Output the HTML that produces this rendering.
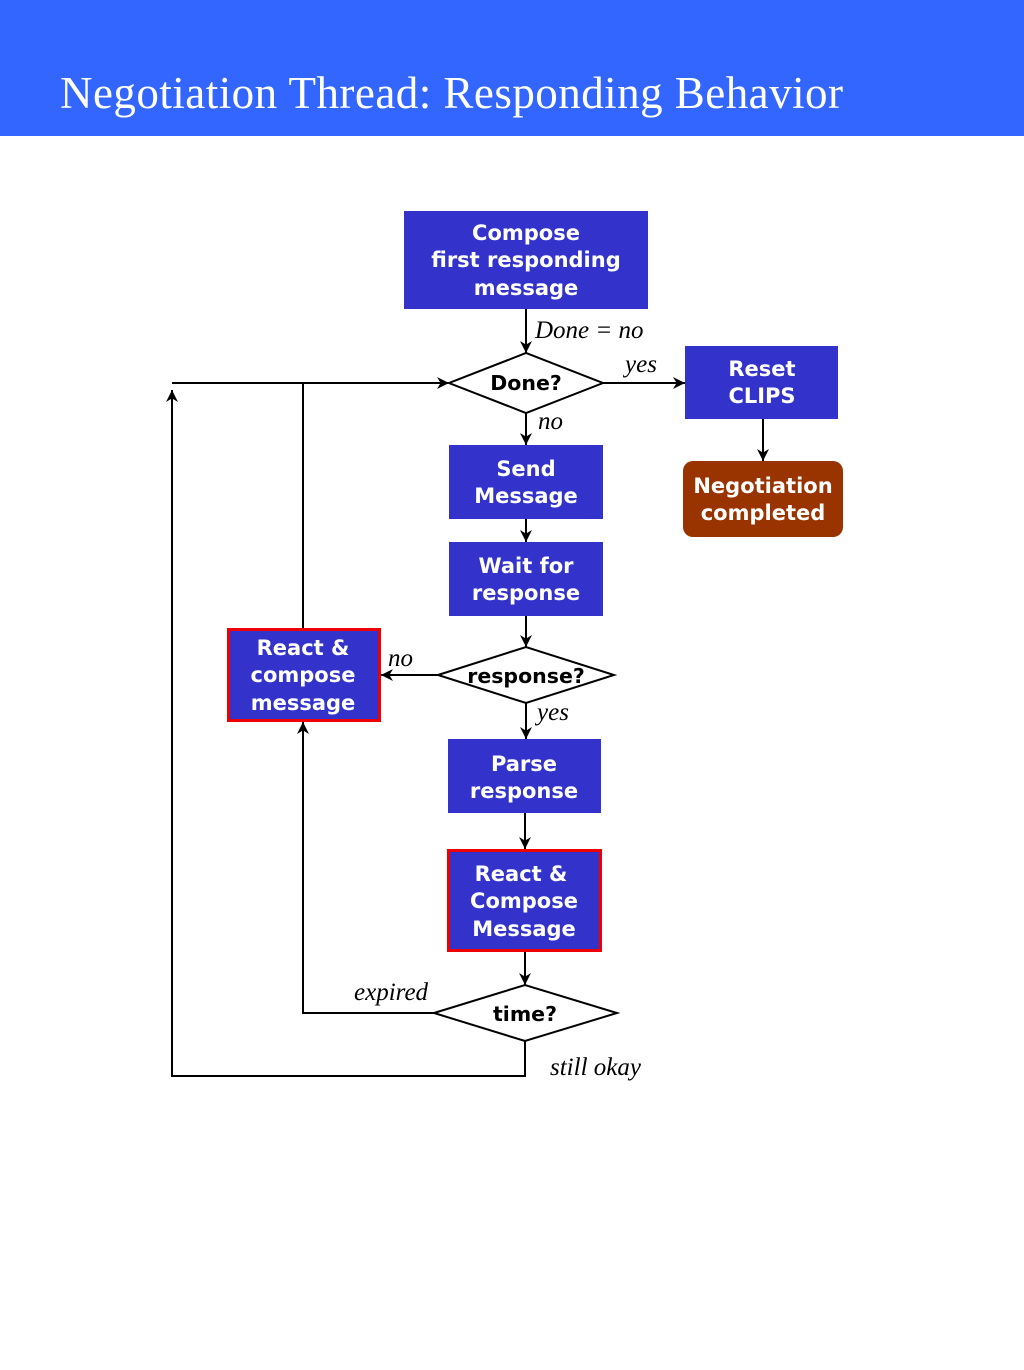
<!DOCTYPE html>
<html><head><style>
body{margin:0;width:1024px;height:1365px;background:#fff;overflow:hidden}
</style></head><body>
<svg width="1024" height="1365" viewBox="0 0 1024 1365" xmlns="http://www.w3.org/2000/svg">
<defs><marker id="a" viewBox="0 0 10 10" refX="10" refY="5" markerWidth="12" markerHeight="12" markerUnits="userSpaceOnUse" orient="auto"><path d="M0,0 L10,5 L0,10 L3,5z" fill="#000"/></marker></defs>
<rect x="0" y="0" width="1024" height="136" fill="#3366ff"/>
<text x="60" y="108" font-family="Liberation Serif,serif" font-size="45" fill="#fff" textLength="783" lengthAdjust="spacing">Negotiation Thread:  Responding Behavior</text>
<g stroke="#000" stroke-width="2" fill="none">
<line x1="526" y1="309" x2="526" y2="353" marker-end="url(#a)"/>
<line x1="603" y1="383" x2="685" y2="383" marker-end="url(#a)"/>
<line x1="763" y1="419" x2="763" y2="461" marker-end="url(#a)"/>
<line x1="526" y1="413" x2="526" y2="445" marker-end="url(#a)"/>
<line x1="526" y1="519" x2="526" y2="542" marker-end="url(#a)"/>
<line x1="526" y1="616" x2="526" y2="647" marker-end="url(#a)"/>
<line x1="438" y1="675" x2="381" y2="675" marker-end="url(#a)"/>
<line x1="526" y1="703" x2="526" y2="739" marker-end="url(#a)"/>
<line x1="525" y1="813" x2="525" y2="849" marker-end="url(#a)"/>
<line x1="525" y1="952" x2="525" y2="985" marker-end="url(#a)"/>
<polyline points="434,1013 303,1013 303,722" marker-end="url(#a)"/>
<polyline points="303,628 303,383"/>
<polyline points="525,1041 525,1076 172,1076 172,390" marker-end="url(#a)"/>
<line x1="172" y1="383" x2="449" y2="383" marker-end="url(#a)"/>
</g>
<g fill="#fff" stroke="#000" stroke-width="2">
<polygon points="449,383 526,353 603,383 526,413"/>
<polygon points="438,675 526,647 614,675 526,703"/>
<polygon points="434,1013 525,985 617,1013 525,1041"/>
</g>
<rect x="404" y="211" width="244" height="98" fill="#3333cc"/>
<rect x="685" y="346" width="153" height="73" fill="#3333cc"/>
<rect x="683" y="461" width="160" height="76" rx="10" fill="#993300"/>
<rect x="449" y="445" width="154" height="74" fill="#3333cc"/>
<rect x="449" y="542" width="154" height="74" fill="#3333cc"/>
<rect x="228.5" y="629.5" width="151" height="91" fill="#3333cc" stroke="#e00" stroke-width="3"/>
<rect x="448" y="739" width="153" height="74" fill="#3333cc"/>
<rect x="448.5" y="850.5" width="152" height="100" fill="#3333cc" stroke="#e00" stroke-width="3"/>
<g font-family="DejaVu Sans,sans-serif" font-weight="bold" font-size="21" fill="#fff" text-anchor="middle">
<text x="526" y="240">Compose</text><text x="526" y="267">first responding</text><text x="526" y="295">message</text>
<text x="762" y="376">Reset</text><text x="762" y="403">CLIPS</text>
<text x="763" y="493">Negotiation</text><text x="763" y="520">completed</text>
<text x="526" y="476">Send</text><text x="526" y="503">Message</text>
<text x="526" y="573">Wait for</text><text x="526" y="600">response</text>
<text x="303" y="655">React &amp;</text><text x="303" y="682">compose</text><text x="303" y="710">message</text>
<text x="524" y="771">Parse</text><text x="524" y="798">response</text>
<text x="521" y="881">React &amp;</text><text x="524" y="908">Compose</text><text x="524" y="936">Message</text>
</g>
<g font-family="DejaVu Sans,sans-serif" font-weight="bold" font-size="20.5" fill="#000" text-anchor="middle">
<text x="526" y="390">Done?</text>
<text x="526" y="683">response?</text>
<text x="525" y="1021">time?</text>
</g>
<g font-family="Liberation Serif,serif" font-style="italic" font-size="25" fill="#000">
<text x="535" y="338">Done = no</text>
<text x="625" y="372">yes</text>
<text x="538" y="429">no</text>
<text x="388" y="666">no</text>
<text x="537" y="720">yes</text>
<text x="354" y="1000">expired</text>
<text x="550" y="1075">still okay</text>
</g>
</svg>
</body></html>
